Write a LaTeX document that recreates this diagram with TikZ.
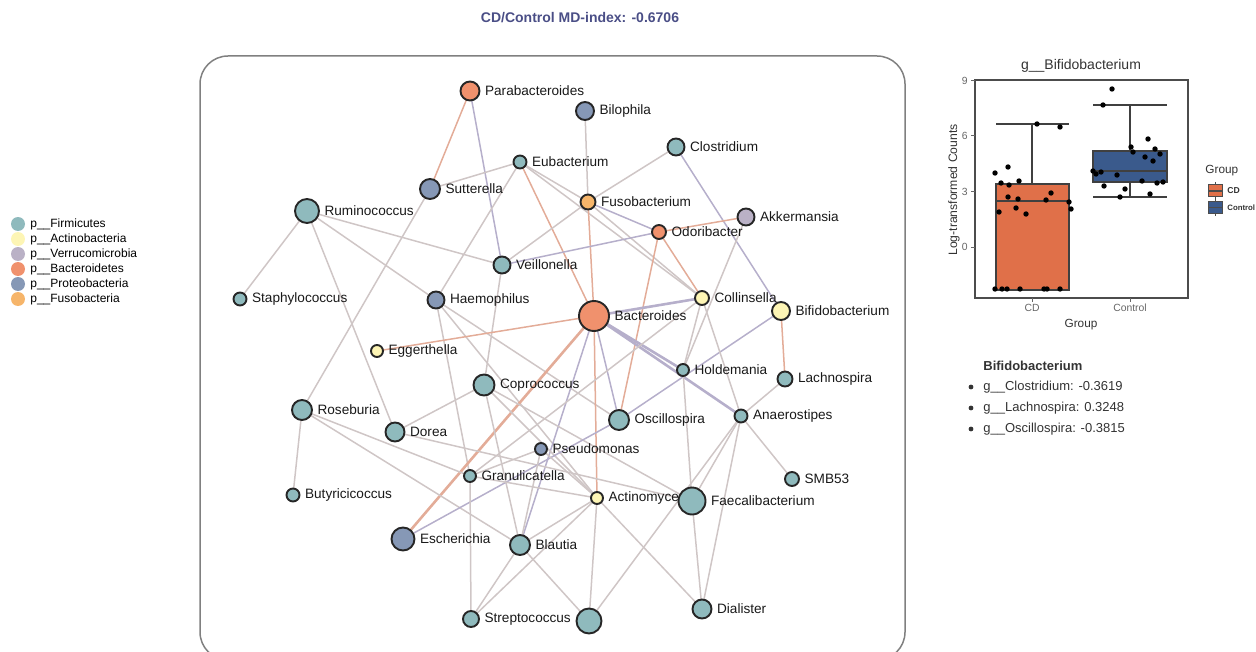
\documentclass[tikz,border=0pt]{standalone}
\usepackage{fontspec}
\setmainfont{Liberation Sans}
\usetikzlibrary{backgrounds}
\definecolor{fir}{HTML}{8FBABD}
\definecolor{act}{HTML}{FDF5B5}
\definecolor{ver}{HTML}{BAB1C6}
\definecolor{bac}{HTML}{F0916D}
\definecolor{pro}{HTML}{8698B6}
\definecolor{fus}{HTML}{F6B56A}
\definecolor{egrey}{HTML}{CFC6C6}
\definecolor{eorange}{HTML}{E3AC98}
\definecolor{epurple}{HTML}{B6AFCB}
\definecolor{ttl}{HTML}{4A4E86}
\definecolor{cdf}{HTML}{E07049}
\definecolor{ctf}{HTML}{3A5A8C}
\definecolor{txg}{HTML}{333333}
\newcommand\nd[6]{\node[nd, fill=#5, minimum size=#4pt] (#1) at (#2,#3) {};
  \node[lbl] (#1l) at ([xshift=2.6pt]#1.east) {#6};}
\newcommand\E[3]{\draw[#1] (#2) -- (#3);}
\begin{document}
\begin{tikzpicture}[x=0.5pt,y=-0.5pt,
  nd/.style={circle, draw=black!85, line width=0.95pt, inner sep=0pt, outer sep=0pt},
  lbl/.style={anchor=west, inner sep=0pt, font=\fontsize{6.8}{8}\selectfont, text=black!90},
  eg/.style={draw=egrey, line width=0.75pt},
  eo/.style={draw=eorange, line width=0.75pt},
  ep/.style={draw=epurple, line width=0.75pt},
  epk/.style={draw=epurple, line width=1.3pt},
  leg/.style={circle, inner sep=0pt, minimum size=7pt},
  legt/.style={anchor=west, inner sep=0pt, font=\fontsize{6}{7}\selectfont},
  small/.style={inner sep=0pt, font=\fontsize{5.2}{6}\selectfont, text=black!60},
]
\useasboundingbox (0,0) rectangle (1256,652);
% title
\node[font=\bfseries\fontsize{7}{8}\selectfont, text=ttl] (title) at (580,18) {CD/Control MD-index: -0.6706};
% frame
\draw[draw=black!50, line width=0.75pt, rounded corners=14pt] (200,56) rectangle (905,660);
% legend
\node[leg, fill=fir] (l1) at (18,224) {}; \node[legt] (l1t) at (30,224) {p\_\_Firmicutes};
\node[leg, fill=act] (l2) at (18,239) {}; \node[legt] (l2t) at (30,239) {p\_\_Actinobacteria};
\node[leg, fill=ver] (l3) at (18,254) {}; \node[legt] (l3t) at (30,254) {p\_\_Verrucomicrobia};
\node[leg, fill=bac] (l4) at (18,269) {}; \node[legt] (l4t) at (30,269) {p\_\_Bacteroidetes};
\node[leg, fill=pro] (l5) at (18,284) {}; \node[legt] (l5t) at (30,284) {p\_\_Proteobacteria};
\node[leg, fill=fus] (l6) at (18,299) {}; \node[legt] (l6t) at (30,299) {p\_\_Fusobacteria};
% nodes
\nd{Parabacteroides}{470}{91}{9.5}{bac}{Parabacteroides}
\nd{Bilophila}{585}{111}{9}{pro}{Bilophila}
\nd{Clostridium}{676}{147}{8.5}{fir}{Clostridium}
\nd{Eubacterium}{520}{162}{6.5}{fir}{Eubacterium}
\nd{Sutterella}{430}{189}{10}{pro}{Sutterella}
\nd{Ruminococcus}{307}{211}{12}{fir}{Ruminococcus}
\nd{Fusobacterium}{588}{202}{7.5}{fus}{Fusobacterium}
\nd{Akkermansia}{746}{217}{8.5}{ver}{Akkermansia}
\nd{Odoribacter}{659}{232}{7}{bac}{Odoribacter}
\nd{Veillonella}{502}{265}{8.5}{fir}{Veillonella}
\nd{Staphylococcus}{240}{299}{6.5}{fir}{Staphylococcus}
\nd{Haemophilus}{436}{300}{8.5}{pro}{Haemophilus}
\nd{Collinsella}{702}{298}{7}{act}{Collinsella}
\nd{Bacteroides}{594}{316}{15}{bac}{Bacteroides}
\nd{Bifidobacterium}{781}{311}{9}{act}{Bifidobacterium}
\nd{Eggerthella}{377}{351}{6}{act}{Eggerthella}
\nd{Holdemania}{683}{370}{6}{fir}{Holdemania}
\nd{Lachnospira}{785}{379}{7.5}{fir}{Lachnospira}
\nd{Coprococcus}{484}{385}{10.5}{fir}{Coprococcus}
\nd{Roseburia}{302}{410}{10}{fir}{Roseburia}
\nd{Oscillospira}{619}{420}{10}{fir}{Oscillospira}
\nd{Anaerostipes}{741}{416}{6.5}{fir}{Anaerostipes}
\nd{Dorea}{395}{432}{9.5}{fir}{Dorea}
\nd{Pseudomonas}{541}{449}{6}{pro}{Pseudomonas}
\nd{Granulicatella}{470}{476}{6}{fir}{Granulicatella}
\nd{SMB53}{792}{479}{7}{fir}{SMB53}
\nd{Butyricicoccus}{293}{495}{6.5}{fir}{Butyricicoccus}
\nd{Actinomyces}{597}{498}{6}{act}{Actinomyces}
\nd{Faecalibacterium}{692}{501}{13.5}{fir}{Faecalibacterium}
\nd{Escherichia}{403}{539}{11.5}{pro}{Escherichia}
\nd{Blautia}{520}{545}{10}{fir}{Blautia}
\nd{Streptococcus}{471}{619}{8}{fir}{Streptococcus}
\node[nd, fill=fir, minimum size=12.5pt] (unl) at (589,621) {};
\nd{Dialister}{702}{609}{9.5}{fir}{Dialister}
% edges
\begin{scope}[on background layer]
\E{eo}{Parabacteroides}{Sutterella}
\E{ep}{Parabacteroides}{Veillonella}
\E{eg}{Bilophila}{Fusobacterium}
\E{eg}{Clostridium}{Fusobacterium}
\E{ep}{Clostridium}{Bifidobacterium}
\E{eg}{Eubacterium}{Sutterella}
\E{eg}{Eubacterium}{Haemophilus}
\E{eo}{Eubacterium}{Bacteroides}
\E{eg}{Eubacterium}{Fusobacterium}
\E{eg}{Eubacterium}{Collinsella}
\E{ep}{Fusobacterium}{Odoribacter}
\E{eg}{Fusobacterium}{Collinsella}
\E{eg}{Fusobacterium}{Veillonella}
\E{eo}{Fusobacterium}{Bacteroides}
\E{ep}{Odoribacter}{Veillonella}
\E{eo}{Odoribacter}{Akkermansia}
\E{eo}{Odoribacter}{Collinsella}
\E{eo}{Odoribacter}{Oscillospira}
\E{eg}{Akkermansia}{Holdemania}
\E{eg}{Ruminococcus}{Staphylococcus}
\E{eg}{Ruminococcus}{Veillonella}
\E{eg}{Ruminococcus}{Haemophilus}
\E{eg}{Ruminococcus}{Dorea}
\E{eg}{Sutterella}{Roseburia}
\E{eg}{Veillonella}{Coprococcus}
\E{eg}{Haemophilus}{Granulicatella}
\E{eg}{Haemophilus}{Oscillospira}
\E{eg}{Haemophilus}{Actinomyces}
\E{epk}{Bacteroides}{Collinsella}
\E{epk}{Bacteroides}{Holdemania}
\E{epk}{Bacteroides}{Anaerostipes}
\E{eo}{Bacteroides}{Eggerthella}
\draw[eo, line width=1.3pt] (Bacteroides) -- (Escherichia);
\E{ep}{Bacteroides}{Blautia}
\E{eo}{Bacteroides}{Actinomyces}
\E{ep}{Bacteroides}{Oscillospira}
\E{eo}{Bifidobacterium}{Lachnospira}
\E{ep}{Bifidobacterium}{Oscillospira}
\E{eg}{Collinsella}{Holdemania}
\E{eg}{Collinsella}{Anaerostipes}
\E{eg}{Collinsella}{Granulicatella}
\E{eg}{Holdemania}{Faecalibacterium}
\E{eg}{Lachnospira}{Anaerostipes}
\E{eg}{Anaerostipes}{SMB53}
\E{eg}{Anaerostipes}{Faecalibacterium}
\E{eg}{Anaerostipes}{Dialister}
\E{eg}{Anaerostipes}{unl}
\E{eg}{Roseburia}{Butyricicoccus}
\E{eg}{Roseburia}{Granulicatella}
\E{eg}{Roseburia}{Blautia}
\E{eg}{Dorea}{Coprococcus}
\E{eg}{Dorea}{Faecalibacterium}
\E{eg}{Coprococcus}{Blautia}
\E{eg}{Coprococcus}{Actinomyces}
\E{eg}{Coprococcus}{Faecalibacterium}
\E{ep}{Oscillospira}{Escherichia}
\E{eg}{Pseudomonas}{Granulicatella}
\E{eg}{Pseudomonas}{Actinomyces}
\E{eg}{Pseudomonas}{Blautia}
\E{eg}{Granulicatella}{Actinomyces}
\E{eg}{Granulicatella}{Streptococcus}
\E{eg}{Actinomyces}{Blautia}
\E{eg}{Actinomyces}{Streptococcus}
\E{eg}{Actinomyces}{unl}
\E{eg}{Actinomyces}{Dialister}
\E{eg}{Blautia}{Streptococcus}
\E{eg}{Blautia}{unl}
\E{eg}{Faecalibacterium}{Dialister}
\end{scope}
% ===== box plot =====
\node[font=\fontsize{7}{8}\selectfont, text=txg] (bptitle) at (1081,66) {g\_\_Bifidobacterium};
\draw[black!70, line width=0.55pt] (975,80) rectangle (1188,298);
\foreach \v/\yy in {9/80.5,6/136,3/191.5,0/247}{
  \draw[black!60, line width=0.5pt] (971,\yy) -- (975,\yy);
  \node[small, anchor=east] at (968,\yy) {\v};
}
\draw[black!60, line width=0.5pt] (1032,298) -- (1032,302);
\draw[black!60, line width=0.5pt] (1130,298) -- (1130,302);
\node[small, anchor=north] (xcd) at (1032,304) {CD};
\node[small, anchor=north] (xct) at (1130,304) {Control};
\node[font=\fontsize{5.9}{7}\selectfont, text=txg, inner sep=0pt] (xlab) at (1081,325) {Group};
\node[font=\fontsize{6.1}{7}\selectfont, text=txg, inner sep=0pt, rotate=90] (ylab) at (954,190) {Log-transformed Counts};
% CD box
\draw[black!75, line width=0.7pt] (1032,124) -- (1032,184);
\draw[black!75, line width=0.7pt] (996,124) -- (1069,124);
\draw[black!75, line width=0.7pt, fill=cdf] (996,184) rectangle (1069,290);
\draw[black!75, line width=1.1pt] (996,201) -- (1069,201);
% Control box
\draw[black!75, line width=0.7pt] (1130,105) -- (1130,151);
\draw[black!75, line width=0.7pt] (1130,182) -- (1130,197);
\draw[black!75, line width=0.7pt] (1093,105) -- (1167,105);
\draw[black!75, line width=0.7pt] (1093,197) -- (1167,197);
\draw[black!75, line width=0.7pt, fill=ctf] (1093,151) rectangle (1167,182);
\draw[black!75, line width=1.1pt] (1093,171) -- (1167,171);
% points
\foreach \px/\py in {995/173,1001/183,1008/167,1009/185,1008/197,1018/199,1019/181,999/212,1016/208,1026/214,1037/124,1060/127,1051/193,1046/200,1069/202,1071/209,995/289,1002/289,1007/289,1020/289,1044/289,1047/289,1060/289}
  \fill[black] (\px,\py) circle (1.35pt);
\foreach \px/\py in {1112/89,1103/105,1131/147,1133/152,1148/139,1155/149,1160/154,1145/157,1153/161,1093/171,1101/172,1096/174,1117/175,1142/181,1157/183,1163/182,1104/186,1125/189,1150/194,1120/197}
  \fill[black] (\px,\py) circle (1.35pt);
% legend of box plot
\node[font=\fontsize{5.9}{7}\selectfont, text=txg, inner sep=0pt, anchor=west] (gl) at (1205,171) {Group};
\draw[black!70, line width=0.5pt] (1215,182) -- (1215,200);
\draw[black!70, line width=0.5pt, fill=cdf] (1208,185) rectangle (1222,197);
\draw[black!70, line width=0.6pt] (1208,191) -- (1222,191);
\draw[black!70, line width=0.5pt] (1215,199) -- (1215,216);
\draw[black!70, line width=0.5pt, fill=ctf] (1208,202) rectangle (1222,213);
\draw[black!70, line width=0.6pt] (1208,207.5) -- (1222,207.5);
\node[font=\bfseries\fontsize{4.3}{5}\selectfont, text=txg, inner sep=0pt, anchor=west] (glcd) at (1227,191) {CD};
\node[font=\bfseries\fontsize{3.9}{5}\selectfont, text=txg, inner sep=0pt, anchor=west] (glct) at (1227,207.5) {Control};
% text list
\node[font=\bfseries\fontsize{6.5}{8}\selectfont, text=txg, inner sep=0pt, anchor=west] (lh) at (983,366) {Bifidobacterium};
\foreach \yy/\tx [count=\i] in {387/{g\_\_Clostridium: -0.3619},408/{g\_\_Lachnospira: 0.3248},429/{g\_\_Oscillospira: -0.3815}}{
  \fill[txg] (971,\yy) circle (1.2pt);
  \node[font=\fontsize{6.5}{8}\selectfont, text=txg, inner sep=0pt, anchor=west] (li\i) at (983,\yy) {\tx};
}
\end{tikzpicture}
\end{document}
